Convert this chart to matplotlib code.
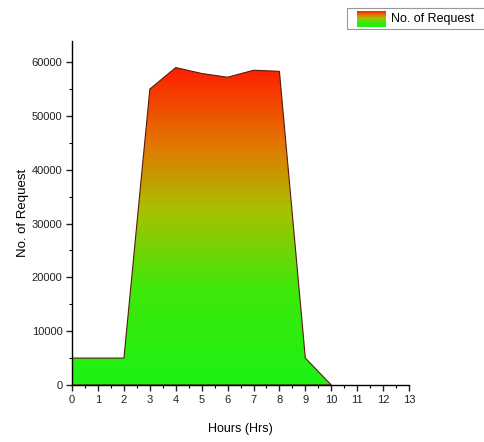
import numpy as np
import matplotlib
matplotlib.use('Agg')
import matplotlib.pyplot as plt
from matplotlib.colors import LinearSegmentedColormap
from matplotlib.patches import Polygon, Rectangle
from matplotlib.ticker import MultipleLocator

plt.rcParams['font.family'] = ['Liberation Sans', 'DejaVu Sans']

# requests per hour
hours = [0, 1, 2, 3, 4, 5, 6, 7, 8, 9, 10]
requests = [5000, 5000, 5000, 55000, 59000, 57900, 57200, 58500, 58300, 5000, 0]

cmap = LinearSegmentedColormap.from_list(
    'rg', [(0.0, '#1cf214'), (0.3, '#3ee80a'), (0.55, '#a8c000'),
           (0.75, '#e07a00'), (1.0, '#ff1e00')])

fig = plt.figure(figsize=(4.84, 4.42), dpi=100)
ax = fig.add_axes([0.149, 0.129, 0.696, 0.779])

ymax = max(requests)
verts = [(hours[0], 0)] + list(zip(hours, requests)) + [(hours[-1], 0)]
poly = Polygon(verts, closed=True, facecolor='none', edgecolor='#5a1a10', lw=0.8, zorder=3)
ax.add_patch(poly)

grad = np.linspace(0, 1, 256).reshape(-1, 1)
img = ax.imshow(grad, cmap=cmap, origin='lower', aspect='auto',
                extent=[hours[0], hours[-1], 0, ymax], zorder=2)
img.set_clip_path(poly)

ax.set_xlim(0, 13)
ax.set_ylim(0, 64000)
ax.xaxis.set_major_locator(MultipleLocator(1))
ax.xaxis.set_minor_locator(MultipleLocator(0.5))
ax.yaxis.set_minor_locator(MultipleLocator(5000))
ax.set_yticks(range(0, 60001, 10000))

for s in ['top', 'right']:
    ax.spines[s].set_visible(False)
for s in ['left', 'bottom']:
    ax.spines[s].set_linewidth(1.0)
    ax.spines[s].set_zorder(4)

ax.tick_params(which='major', direction='out', length=4, width=1, labelsize=8,
               colors='#222222', pad=3)
ax.tick_params(which='minor', direction='out', length=2.5, width=0.8)

ax.set_xlabel('Hours (Hrs)', fontsize=9, labelpad=13)
ax.set_ylabel('No. of Request', fontsize=9.5, labelpad=2)

# legend box with gradient swatch
box = Rectangle((347 / 484, 1 - 29 / 442), 0.4, 21 / 442,
                transform=fig.transFigure, facecolor='white',
                edgecolor='#999999', lw=0.8, zorder=0)
fig.patches.append(box)
lax = fig.add_axes([357 / 484, 1 - 27 / 442, 29 / 484, 16 / 442])
lax.set_zorder(5)
lax.imshow(grad, cmap=cmap, origin='lower', aspect='auto')
lax.axis('off')
fig.text(391 / 484, 1 - 19 / 442, 'No. of Request', fontsize=9, va='center', ha='left',
         zorder=6)

fig.savefig('out.png', dpi=100)
